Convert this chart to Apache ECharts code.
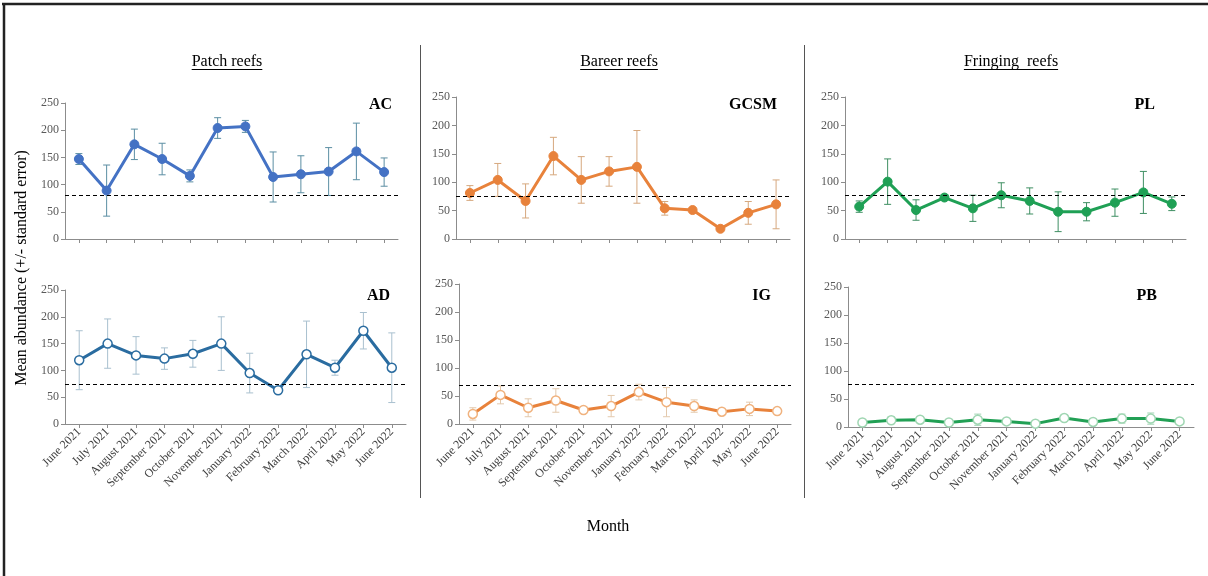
<!DOCTYPE html>
<html>
<head>
<meta charset="utf-8">
<script src="https://cdn.jsdelivr.net/npm/echarts@6/dist/echarts.min.js"></script>
<style>
html,body{margin:0;padding:0;background:#fff;}
#c{width:1208px;height:576px;}
</style>
</head>
<body>
<div id="c"></div>
<script>
const months = ['June 2021','July 2021','August 2021','September 2021','October 2021','November 2021','January 2022','February 2022','March 2022','April 2022','May 2022','June 2022'];
const yTicks = [0, 50, 100, 150, 200, 250];

const acMean = [147, 89, 174, 147, 116, 204, 207, 114, 119, 124, 161, 123];
const acSE   = [10, 47, 28, 29, 11, 19, 11, 46, 34, 44, 52, 26];
const acRef  = 80;

const adMean = [119, 150, 128, 122, 131, 150, 95, 63, 130, 105, 174, 105];
const adSE   = [55, 46, 35, 20, 25, 50, 37, 2, 62, 14, 34, 65];
const adRef  = 74;

const gcsmMean = [81, 104, 67, 146, 104, 119, 127, 54, 51, 18, 46, 61];
const gcsmSE   = [13, 29, 30, 33, 41, 26, 64, 12, 2, 2, 20, 43];
const gcsmRef  = 76;

const igMean = [18, 52, 29, 42, 25, 32, 57, 39, 32, 22, 27, 23];
const igSE   = [11, 16, 16, 21, 2, 19, 14, 26, 11, 2, 12, 2];
const igRef  = 70;

const plMean = [57, 101, 51, 73, 54, 77, 67, 48, 48, 64, 82, 62];
const plSE   = [10, 40, 18, 4, 23, 22, 23, 35, 16, 24, 37, 12];
const plRef  = 77;

const pbMean = [8, 12, 13, 8, 13, 10, 6, 16, 9, 15, 15, 10];
const pbSE   = [2, 6, 3, 2, 10, 2, 1, 3, 2, 8, 10, 2];
const pbRef  = 76;

const SERIF = '"Liberation Serif","Times New Roman",serif';

const panels = [
  {name:'AC', mean:acMean, se:acSE, ref:acRef, grid:{left:65, top:103, width:333, height:136}, color:'#4472C4', err:'#5b8ea3', hollow:false, labels:false, tag:{x:392,y:105}},
  {name:'AD', mean:adMean, se:adSE, ref:adRef, grid:{left:65, top:290, width:341, height:134}, color:'#2A6CA0', err:'#a9c0cf', hollow:true, mk:'#2A6CA0', labels:true, tag:{x:390,y:296}},
  {name:'GCSM', mean:gcsmMean, se:gcsmSE, ref:gcsmRef, grid:{left:456, top:97, width:334, height:142}, color:'#E8823B', err:'#d6a87e', hollow:false, labels:false, tag:{x:777,y:105}},
  {name:'IG', mean:igMean, se:igSE, ref:igRef, grid:{left:459, top:284, width:332, height:140}, color:'#E8823B', err:'#e3c9ad', hollow:true, mk:'#f0b27e', labels:true, tag:{x:771,y:296}},
  {name:'PL', mean:plMean, se:plSE, ref:plRef, grid:{left:845, top:97, width:341, height:142}, color:'#1FA055', err:'#3f8f63', hollow:false, labels:false, tag:{x:1155,y:105}},
  {name:'PB', mean:pbMean, se:pbSE, ref:pbRef, grid:{left:848, top:287, width:346, height:140}, color:'#22A055', err:'#9fd3b2', hollow:true, mk:'#9fd6b2', labels:true, tag:{x:1157,y:296}}
];

const grids = [], xAxes = [], yAxes = [], series = [], graphics = [];

function errRender(color){
  return function(params, api){
    const x = api.value(0);
    const lo = api.coord([x, api.value(1)]);
    const hi = api.coord([x, api.value(2)]);
    const w = 3.5;
    const st = {stroke: color, lineWidth: 1};
    return {type:'group', children:[
      {type:'line', shape:{x1:lo[0], y1:lo[1], x2:hi[0], y2:hi[1]}, style:st},
      {type:'line', shape:{x1:lo[0]-w, y1:lo[1], x2:lo[0]+w, y2:lo[1]}, style:st},
      {type:'line', shape:{x1:hi[0]-w, y1:hi[1], x2:hi[0]+w, y2:hi[1]}, style:st}
    ]};
  };
}

panels.forEach((p, i) => {
  grids.push(Object.assign({containLabel:false}, p.grid));
  xAxes.push({
    type:'category', gridIndex:i, data:months, boundaryGap:true,
    axisLine:{lineStyle:{color:'#8c8c8c', width:1}},
    axisTick:{show:true, alignWithLabel:true, length:4, lineStyle:{color:'#8c8c8c'}},
    axisLabel:{show:p.labels, rotate:45, interval:0, fontFamily:SERIF, fontSize:12, color:'#404040', margin:6},
    splitLine:{show:false}
  });
  yAxes.push({
    type:'value', gridIndex:i, min:yTicks[0], max:yTicks[yTicks.length-1], interval:50,
    axisLine:{show:true, lineStyle:{color:'#8c8c8c', width:1}},
    axisTick:{show:true, length:4, lineStyle:{color:'#8c8c8c'}},
    axisLabel:{fontFamily:SERIF, fontSize:12, color:'#595959', margin:6},
    splitLine:{show:false}
  });
  series.push({
    type:'custom', xAxisIndex:i, yAxisIndex:i, z:1,
    renderItem: errRender(p.err),
    encode:{x:0, y:[1,2]},
    data: p.mean.map((m, k) => [k, m - p.se[k], m + p.se[k]]),
    silent:true
  });
  series.push({
    type:'line', xAxisIndex:i, yAxisIndex:i, z:3,
    data:p.mean,
    symbol:'circle', symbolSize:9,
    lineStyle:{color:p.color, width:3},
    itemStyle: p.hollow ? {color:'#ffffff', borderColor:p.mk, borderWidth:1.5} : {color:p.color, borderColor:p.color, borderWidth:1},
    animation:false,
    markLine:{
      silent:true, symbol:'none', animation:false,
      label:{show:false},
      lineStyle:{color:'#000', type:[4,3], width:1},
      data:[{yAxis:p.ref}]
    }
  });
  graphics.push({
    type:'text', x:p.tag.x, y:p.tag.y,
    style:{text:p.name, font:'bold 16px ' + SERIF, fill:'#000', textAlign:'right', textVerticalAlign:'middle'}
  });
});

// section titles (underlined)
const titleFont = '16px ' + SERIF;
const mctx = document.createElement('canvas').getContext('2d');
mctx.font = titleFont;
const titles = [
  {t:'Patch reefs', x:227},
  {t:'Bareer reefs', x:619},
  {t:'Fringing  reefs', x:1011}
];
titles.forEach(o => {
  const w = mctx.measureText(o.t).width;
  graphics.push({type:'text', x:o.x, y:62, style:{text:o.t, font:titleFont, fill:'#000', textAlign:'center', textVerticalAlign:'middle'}});
  graphics.push({type:'line', shape:{x1:o.x - w/2, y1:69.5, x2:o.x + w/2, y2:69.5}, style:{stroke:'#000', lineWidth:1}});
});

// axis titles
graphics.push({type:'text', x:22, y:268, rotation:Math.PI/2, style:{text:'Mean abundance (+/- standard error)', font:'16px ' + SERIF, fill:'#000', textAlign:'center', textVerticalAlign:'middle'}});
graphics.push({type:'text', x:608, y:527, style:{text:'Month', font:'16px ' + SERIF, fill:'#000', textAlign:'center', textVerticalAlign:'middle'}});

// dividers and frame
graphics.push({type:'line', shape:{x1:420.5, y1:45, x2:420.5, y2:498}, style:{stroke:'#555', lineWidth:1}});
graphics.push({type:'line', shape:{x1:804.5, y1:45, x2:804.5, y2:498}, style:{stroke:'#555', lineWidth:1}});
graphics.push({type:'line', shape:{x1:2, y1:4, x2:1208, y2:4}, style:{stroke:'#222', lineWidth:2.5}});
graphics.push({type:'line', shape:{x1:4, y1:3, x2:4, y2:576}, style:{stroke:'#222', lineWidth:2.5}});

const chart = echarts.init(document.getElementById('c'), null, {renderer:'canvas'});
chart.setOption({
  backgroundColor:'#ffffff',
  animation:false,
  grid:grids, xAxis:xAxes, yAxis:yAxes, series:series,
  graphic:graphics
});
</script>
</body>
</html>
